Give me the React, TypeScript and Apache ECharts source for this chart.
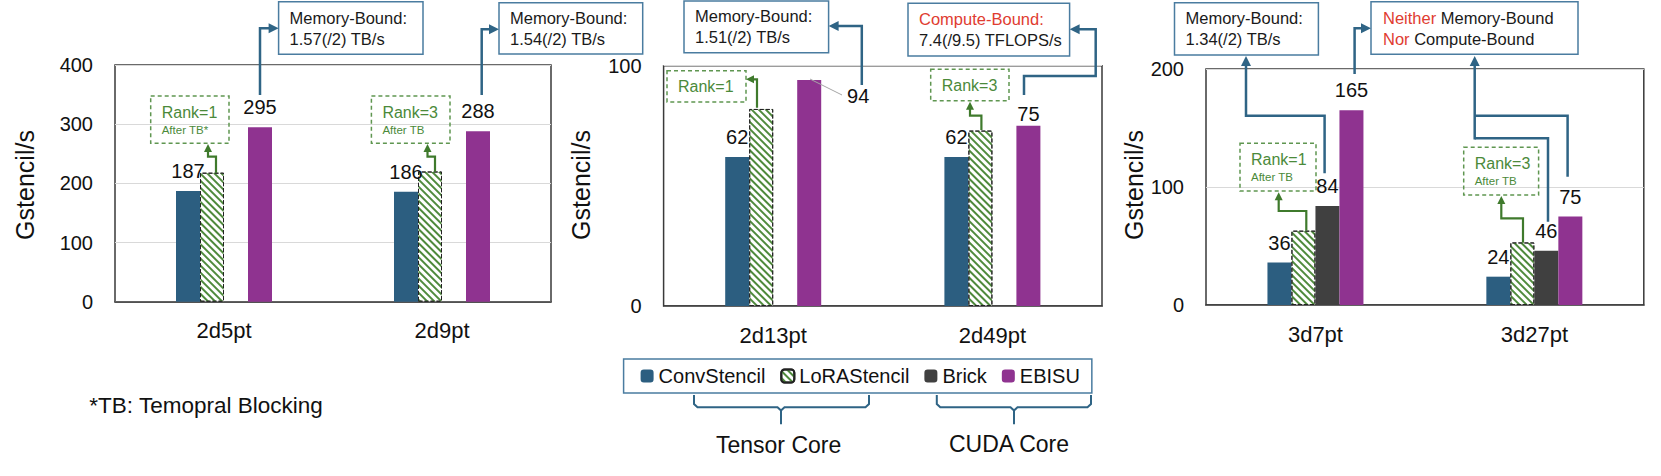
import React, { useEffect, useRef } from 'react';
import * as echarts from 'echarts';

// ---------- data ----------
const seriesNames = ['ConvStencil', 'LoRAStencil', 'Brick', 'EBISU'];

const panel1Categories = ['2d5pt', '2d9pt'];
const panel1Conv = [187, 186];
const panel1LoRA = [218, 220];
const panel1Brick: (number | null)[] = [null, null];
const panel1Ebisu = [295, 288];

const panel2Categories = ['2d13pt', '2d49pt'];
const panel2Conv = [62, 62];
const panel2LoRA = [82, 73];
const panel2Brick: (number | null)[] = [null, null];
const panel2Ebisu = [94, 75];

const panel3Categories = ['3d7pt', '3d27pt'];
const panel3Conv = [36, 24];
const panel3LoRA = [63, 53];
const panel3Brick = [84, 46];
const panel3Ebisu = [165, 75];

const yMaxes = [400, 100, 200];
const yIntervals = [100, 100, 100];

// ---------- styles ----------
const FONT = 'Liberation Sans, Arial, sans-serif';
const C_CONV = '#2c5e80';
const C_BRICK = '#404040';
const C_EBISU = '#8f3390';
const C_HATCH = '#4f8a3c';
const BLUE = '#2f6485';
const BOX = '#4a7ca0';
const GREEN = '#3f7a2c';
const GREEN_TXT = '#4b8a3a';
const GREEN_BOX = '#5f9650';
const RED = '#e03c31';
const TXT = '#111111';

const grids = [
  { left: 115, top: 65, width: 436, height: 236.7 },
  { left: 663.6, top: 65.7, width: 438.4, height: 240.3 },
  { left: 1206, top: 69, width: 437.8, height: 236 },
];

function arrow(pts: number[][], color: string, width: number, head = 10, withHead = true): any[] {
  const n = pts.length;
  if (!withHead) {
    return [{ type: 'polyline', z: 20, shape: { points: pts }, style: { stroke: color, lineWidth: width, fill: 'none' } }];
  }
  const [x1, y1] = pts[n - 2];
  const [x2, y2] = pts[n - 1];
  const ang = Math.atan2(y2 - y1, x2 - x1);
  const base = [x2 - head * Math.cos(ang), y2 - head * Math.sin(ang)];
  const hw = head * 0.5;
  const left = [base[0] + hw * Math.sin(ang), base[1] - hw * Math.cos(ang)];
  const right = [base[0] - hw * Math.sin(ang), base[1] + hw * Math.cos(ang)];
  const linePts = [...pts.slice(0, n - 1), [base[0] + Math.cos(ang), base[1] + Math.sin(ang)]];
  return [
    { type: 'polyline', z: 20, shape: { points: linePts }, style: { stroke: color, lineWidth: width, fill: 'none', lineJoin: 'miter' } },
    { type: 'polygon', z: 20, shape: { points: [[x2, y2], left, right] }, style: { fill: color } },
  ];
}

function noteBox(x: number, y: number, w: number, h: number, text: string, pad = 11): any[] {
  return [
    { type: 'rect', z: 15, shape: { x, y, width: w, height: h }, style: { fill: '#ffffff', stroke: BOX, lineWidth: 1.5 } },
    {
      type: 'text', z: 16, x: x + pad, y: y + h / 2,
      style: {
        text, fontSize: 16.5, fontFamily: FONT, fill: '#1a1a1a', align: 'left', verticalAlign: 'middle', lineHeight: 21,
        rich: { r: { fill: RED, fontSize: 16.5, fontFamily: FONT, lineHeight: 21 } },
      },
    },
  ];
}

function rankBox(x: number, y: number, w: number, h: number, rank: string, after: string | null): any[] {
  const els: any[] = [
    { type: 'rect', z: 15, shape: { x, y, width: w, height: h }, style: { fill: 'rgba(255,255,255,0)', stroke: GREEN_BOX, lineWidth: 1.5, lineDash: [4, 3] } },
  ];
  if (after) {
    els.push({ type: 'text', z: 16, x: x + 11, y: y + 16, style: { text: rank, fontSize: 16, fontFamily: FONT, fill: GREEN_TXT, align: 'left', verticalAlign: 'middle' } });
    els.push({ type: 'text', z: 16, x: x + 11, y: y + 34, style: { text: after, fontSize: 11.5, fontFamily: FONT, fill: GREEN_TXT, align: 'left', verticalAlign: 'middle' } });
  } else {
    els.push({ type: 'text', z: 16, x: x + 11, y: y + h / 2, style: { text: rank, fontSize: 16, fontFamily: FONT, fill: GREEN_TXT, align: 'left', verticalAlign: 'middle' } });
  }
  return els;
}

const labelStyle = { show: true, position: 'top', distance: 10, fontSize: 20, color: TXT, fontFamily: FONT, lineHeight: 20 };

function makeSeries(idx: number, conv: any[], lora: any[], brick: any[], ebisu: any[]) {
  const common = { type: 'bar', xAxisIndex: idx, yAxisIndex: idx, barWidth: 24, barGap: '0%', barCategoryGap: '56%' };
  return [
    { ...common, name: seriesNames[0], data: conv, itemStyle: { color: C_CONV }, label: labelStyle },
    {
      ...common, name: seriesNames[1], data: lora,
      itemStyle: {
        color: '#ffffff', borderColor: '#222222', borderType: 'dashed', borderWidth: 1,
        decal: { symbol: 'rect', symbolSize: 1, color: C_HATCH, dashArrayX: [1, 0], dashArrayY: [1.6, 3], rotation: Math.PI / 4 },
      },
      label: { show: false },
    },
    { ...common, name: seriesNames[2], data: brick, itemStyle: { color: C_BRICK }, label: labelStyle },
    { ...common, name: seriesNames[3], data: ebisu, itemStyle: { color: C_EBISU }, label: labelStyle },
  ];
}

export default function App() {
  const ref = useRef<HTMLDivElement>(null);
  useEffect(() => {
    if (!ref.current) return;
    const chart = echarts.init(ref.current, null, { renderer: 'svg' });
    const cats = [panel1Categories, panel2Categories, panel3Categories];

    const panel2EbisuItems = panel2Ebisu.map((v, i) =>
      i === 0 ? { value: v, label: { offset: [49, 36] } } : { value: v, label: { offset: [0, 8] } }
    );

    const graphics: any[] = [
      // axis names
      ...[25, 581, 1134].map((x) => ({
        type: 'text', x, y: 185, rotation: Math.PI / 2,
        style: { text: 'Gstencil/s', fontSize: 25, fontFamily: FONT, fill: TXT, align: 'center', verticalAlign: 'middle' },
      })),
      // panel 1
      ...noteBox(278.6, 1.7, 144.4, 52.6, 'Memory-Bound:\n1.57(/2) TB/s'),
      ...arrow([[260, 95], [260, 28.3], [278.6, 28.3]], BLUE, 2.5),
      ...noteBox(499, 2.7, 143.7, 51.3, 'Memory-Bound:\n1.54(/2) TB/s'),
      ...arrow([[481.7, 95], [481.7, 29.3], [499, 29.3]], BLUE, 2.5),
      ...rankBox(150.7, 96, 78.3, 47.3, 'Rank=1', 'After TB*'),
      ...arrow([[216, 173], [216, 156.7], [208, 156.7], [208, 144]], GREEN, 2.2, 8),
      ...rankBox(371.4, 96, 78.6, 47.3, 'Rank=3', 'After TB'),
      ...arrow([[435, 171.7], [435, 156.7], [427.5, 156.7], [427.5, 144]], GREEN, 2.2, 8),
      // panel 2
      ...noteBox(684, 0.9, 144.6, 51.8, 'Memory-Bound:\n1.51(/2) TB/s'),
      ...arrow([[861.8, 85], [861.8, 26], [828.6, 26]], BLUE, 2.5),
      { type: 'line', z: 12, shape: { x1: 810, y1: 79, x2: 842, y2: 95 }, style: { stroke: '#a6a6a6', lineWidth: 1 } },
      ...rankBox(667, 70.7, 79, 31.3, 'Rank=1', null),
      ...arrow([[757, 107.7], [757, 79.3], [746, 79.3]], GREEN, 2.2, 8),
      ...noteBox(908, 3.3, 161.6, 52.7, '{r|Compute-Bound:}\n7.4(/9.5) TFLOPS/s'),
      ...arrow([[1024, 95], [1024, 76], [1095.7, 76], [1095.7, 29.3], [1069.6, 29.3]], BLUE, 2.5),
      ...rankBox(930.7, 69.3, 78.3, 31.4, 'Rank=3', null),
      ...arrow([[981.4, 130], [981.4, 115.7], [970, 115.7], [970, 101.7]], GREEN, 2.2, 8),
      // panel 3
      ...noteBox(1174.5, 2.7, 143.9, 52.3, 'Memory-Bound:\n1.34(/2) TB/s'),
      ...arrow([[1324.6, 173.3], [1324.6, 115.7], [1246, 115.7], [1246, 56]], BLUE, 2.5),
      ...noteBox(1371, 1.7, 207, 52.6, '{r|Neither} Memory-Bound\n{r|Nor} Compute-Bound', 12),
      ...arrow([[1354.6, 74], [1354.6, 28.3], [1371, 28.3]], BLUE, 2.5),
      ...arrow([[1548, 221.7], [1548, 138.3], [1474.7, 138.3]], BLUE, 2.5, 10, false),
      ...arrow([[1567.6, 176.7], [1567.6, 115.7], [1474.7, 115.7]], BLUE, 2.5, 10, false),
      ...arrow([[1474.7, 139.5], [1474.7, 56]], BLUE, 2.5),
      ...rankBox(1240, 143.3, 76, 47.7, 'Rank=1', 'After TB'),
      ...arrow([[1306.3, 230.7], [1306.3, 211], [1278.7, 211], [1278.7, 192.3]], GREEN, 2.2, 8),
      ...rankBox(1463.7, 147.3, 74.9, 47.7, 'Rank=3', 'After TB'),
      ...arrow([[1523, 242.7], [1523, 218.3], [1501.3, 218.3], [1501.3, 196]], GREEN, 2.2, 8),
      // braces
      { type: 'polyline', shape: { points: [[694, 395], [694, 404], [697.5, 407.3], [777.5, 407.3], [781, 410.5], [781, 424.3]] }, style: { stroke: BLUE, lineWidth: 2, fill: 'none' } },
      { type: 'polyline', shape: { points: [[781, 410.5], [784.5, 407.3], [865.5, 407.3], [869, 404], [869, 395]] }, style: { stroke: BLUE, lineWidth: 2, fill: 'none' } },
      { type: 'polyline', shape: { points: [[936.8, 395], [936.8, 404], [940.3, 407.3], [1010.5, 407.3], [1014, 410.5], [1014, 424.3]] }, style: { stroke: BLUE, lineWidth: 2, fill: 'none' } },
      { type: 'polyline', shape: { points: [[1014, 410.5], [1017.5, 407.3], [1087.5, 407.3], [1091, 404], [1091, 395]] }, style: { stroke: BLUE, lineWidth: 2, fill: 'none' } },
      { type: 'text', x: 778.6, y: 445, style: { text: 'Tensor Core', fontSize: 23, fontFamily: FONT, fill: TXT, align: 'center', verticalAlign: 'middle' } },
      { type: 'text', x: 1009, y: 443.5, style: { text: 'CUDA Core', fontSize: 23, fontFamily: FONT, fill: TXT, align: 'center', verticalAlign: 'middle' } },
      // footnote
      { type: 'text', x: 89.3, y: 405, style: { text: '*TB: Temopral Blocking', fontSize: 22.5, fontFamily: FONT, fill: TXT, align: 'left', verticalAlign: 'middle' } },
    ];

    chart.setOption({
      animation: false,
      backgroundColor: '#ffffff',
      textStyle: { fontFamily: FONT },
      legend: {
        data: seriesNames,
        left: 623.6,
        top: 359,
        itemWidth: 13,
        itemHeight: 13,
        itemGap: 15,
        padding: [7, 12, 7, 17],
        borderColor: BOX,
        borderWidth: 1.5,
        textStyle: { fontSize: 20, color: TXT, fontFamily: FONT },
        selectedMode: false,
      },
      grid: grids.map((g) => ({ ...g, show: true, borderColor: '#3a3a3a', borderWidth: 1.5, backgroundColor: 'transparent', containLabel: false })),
      xAxis: cats.map((c, i) => ({
        type: 'category', gridIndex: i, data: c,
        axisTick: { show: false },
        axisLine: { show: true, lineStyle: { color: '#3a3a3a', width: 1.5 } },
        axisLabel: { fontSize: 22, color: TXT, margin: 18, fontFamily: FONT },
      })),
      yAxis: yMaxes.map((m, i) => ({
        type: 'value', gridIndex: i, min: 0, max: m, interval: yIntervals[i],
        axisLine: { show: false }, axisTick: { show: false },
        axisLabel: { fontSize: 20, color: TXT, margin: 22, fontFamily: FONT },
        splitLine: { show: true, lineStyle: { color: '#d9d9d9', width: 1 } },
      })),
      series: [
        ...makeSeries(0, panel1Conv, panel1LoRA, panel1Brick, panel1Ebisu),
        ...makeSeries(1, panel2Conv, panel2LoRA, panel2Brick, panel2EbisuItems),
        ...makeSeries(2, panel3Conv, panel3LoRA, panel3Brick, panel3Ebisu),
      ],
      graphic: graphics,
    });
    return () => chart.dispose();
  }, []);
  return <div ref={ref} style={{ position: 'absolute', left: 0, top: 0, width: 1661, height: 476 }} />;
}
